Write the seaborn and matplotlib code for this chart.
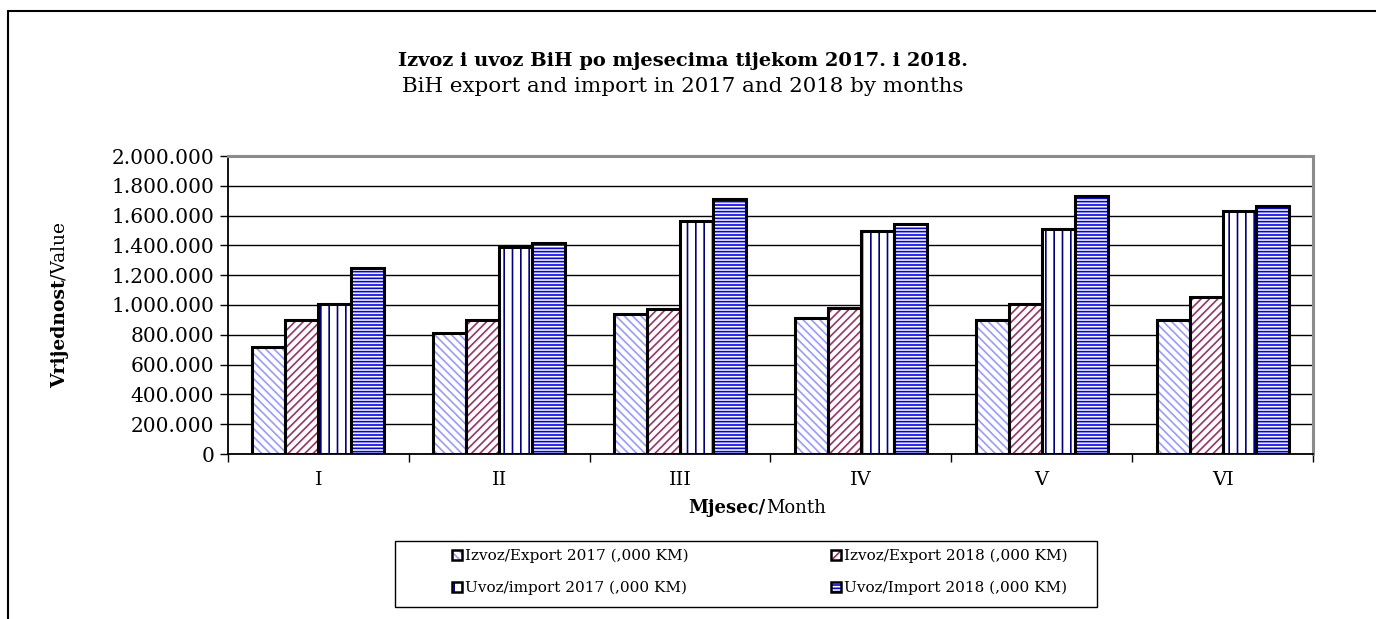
import matplotlib
matplotlib.use("Agg")
import matplotlib.pyplot as plt
import seaborn as sns
import pandas as pd
from matplotlib.patches import Patch, Rectangle
from matplotlib.lines import Line2D
from matplotlib.ticker import FuncFormatter, MultipleLocator, FixedLocator

months = ["I", "II", "III", "IV", "V", "VI"]
series = ["Izvoz/Export 2017 (,000 KM)", "Izvoz/Export 2018 (,000 KM)",
          "Uvoz/import 2017 (,000 KM)", "Uvoz/Import 2018 (,000 KM)"]
export_2017 = [718000, 815000, 942000, 913000, 902000, 897000]
export_2018 = [902000, 902000, 971000, 978000, 1009000, 1054000]
import_2017 = [1007000, 1392000, 1562000, 1497000, 1513000, 1634000]
import_2018 = [1251000, 1416000, 1709000, 1546000, 1729000, 1662000]

hatches = ["\\\\\\\\", "////", "||", "-----"]
hatch_colors = ["#9a9aff", "#993366", "#000080", "#0000ff"]

df = pd.DataFrame({
    "month": months * 4,
    "series": [s for s in series for _ in months],
    "value": export_2017 + export_2018 + import_2017 + import_2018,
})

sns.set_style("white")
plt.rcParams["font.family"] = ["DejaVu Serif"]
plt.rcParams["hatch.linewidth"] = 1.2
plt.rcParams["text.color"] = "black"
plt.rcParams["xtick.color"] = "black"
plt.rcParams["ytick.color"] = "black"

fig = plt.figure(figsize=(13.76, 6.19), dpi=100)
ax = fig.add_axes([228 / 1376, 1 - 454 / 619, (1313 - 228) / 1376, (454 - 156) / 619])

# hatched fill
sns.barplot(data=df, x="month", y="value", hue="series", order=months, hue_order=series,
            palette=["white"] * 4, width=0.73, linewidth=0, legend=False, ax=ax,
            errorbar=None, zorder=2)
for cont, h, c in zip(ax.containers, hatches, hatch_colors):
    for bar in cont:
        bar.set_hatch(h)
        bar.set_edgecolor(c)
        bar.set_linewidth(0)
# black outline
sns.barplot(data=df, x="month", y="value", hue="series", order=months, hue_order=series,
            fill=False, color="black", width=0.73, linewidth=2.2, legend=False, ax=ax,
            errorbar=None, zorder=3)
for cont in ax.containers[4:]:
    for bar in cont:
        bar.set_edgecolor("black")

ax.set_xlim(-0.5, 5.5)
ax.set_ylim(0, 2000000)
ax.yaxis.set_major_locator(MultipleLocator(200000))
ax.yaxis.set_major_formatter(FuncFormatter(lambda v, p: f"{int(v):,}".replace(",", ".")))
ax.grid(axis="y", color="black", linewidth=1, zorder=0)
ax.set_axisbelow(True)
ax.set_xlabel("")
ax.set_ylabel("")

ax.tick_params(axis="y", which="major", direction="out", length=6, width=1, color="black",
               labelsize=14.5, pad=4, left=True, labelcolor="black")
ax.tick_params(axis="x", which="major", length=0, labelsize=14, pad=12, labelcolor="black")
ax.xaxis.set_minor_locator(FixedLocator([i - 0.5 for i in range(len(months) + 1)]))
ax.tick_params(axis="x", which="minor", direction="out", length=6, width=1, color="black",
               bottom=True)

for side in ["left", "bottom"]:
    ax.spines[side].set_color("black")
    ax.spines[side].set_linewidth(1.3)
for side in ["top", "right"]:
    ax.spines[side].set_color("#8c8c8c")
    ax.spines[side].set_linewidth(2.2)

# outer frame
fig.add_artist(Line2D([8 / 1376, 1], [1 - 11 / 619, 1 - 11 / 619], color="black",
                      linewidth=1.5, transform=fig.transFigure))
fig.add_artist(Line2D([8 / 1376, 8 / 1376], [0, 1 - 11 / 619], color="black",
                      linewidth=1.5, transform=fig.transFigure))

# titles
fig.text(683 / 1376, 1 - 61 / 619, "Izvoz i uvoz BiH po mjesecima tijekom 2017. i 2018.",
         ha="center", va="center", fontsize=14, fontweight="bold")
fig.text(683 / 1376, 1 - 86 / 619, "BiH export and import in 2017 and 2018 by months",
         ha="center", va="center", fontsize=15.4)

# mixed weight axis labels
fig.canvas.draw()
r = fig.canvas.get_renderer()
xb = fig.text(0, 1 - 508 / 619, "Mjesec/", ha="left", va="center", fontsize=13,
              fontweight="bold")
xr = fig.text(0, 1 - 508 / 619, "Month", ha="left", va="center", fontsize=13)
wb = xb.get_window_extent(r).width
wr = xr.get_window_extent(r).width
x0 = 757 - (wb + wr) / 2
xb.set_x(x0 / 1376)
xr.set_x((x0 + wb) / 1376)

yb = fig.text(0, 0, "Vrijednost", rotation=90, ha="center", va="bottom", fontsize=13.5,
              fontweight="bold")
yr = fig.text(0, 0, "/Value", rotation=90, ha="center", va="bottom", fontsize=13.5)
hb = yb.get_window_extent(r).height
hr = yr.get_window_extent(r).height
y0 = 619 - 305 - (hb + hr) / 2
yb.set_position((60 / 1376, y0 / 619))
yr.set_position((60 / 1376, (y0 + hb) / 619))

# legend box drawn separately (its padding is uneven in the original)
fig.add_artist(Rectangle((395 / 1376, 1 - 607 / 619), (1097 - 395) / 1376, 66 / 619,
                         transform=fig.transFigure, facecolor="white", edgecolor="black",
                         linewidth=1))

# legend: column-major fill, so reorder to get Export on row 1 and Import on row 2
handles = [(Patch(facecolor="white", edgecolor=c, hatch=h, linewidth=0),
            Patch(facecolor="none", edgecolor="black", linewidth=1.8))
           for h, c in zip(hatches, hatch_colors)]
order = [0, 2, 1, 3]
fig.legend([handles[i] for i in order], [series[i] for i in order], loc="center",
           bbox_to_anchor=(760 / 1376, 1 - 572 / 619),
           ncol=2, fontsize=11, frameon=False, handlelength=0.65, handleheight=0.65,
           handletextpad=0.2, columnspacing=9.3, borderpad=0, labelspacing=1.15,
           borderaxespad=0)

fig.savefig("out.png", dpi=100)
